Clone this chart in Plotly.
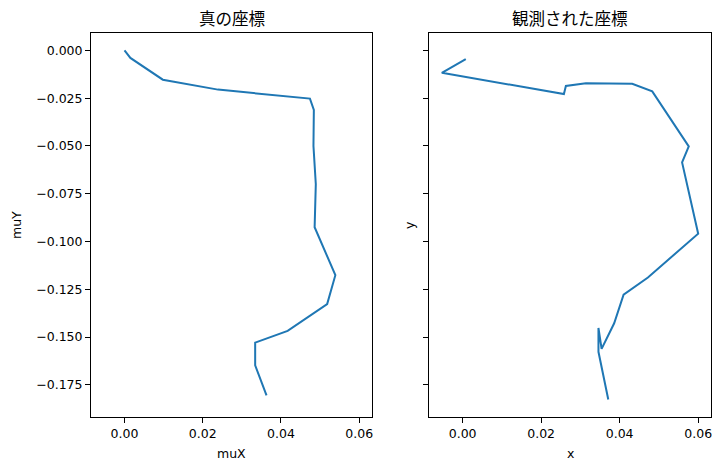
import plotly.graph_objects as go

# true coordinates (left panel)
mu_x = [0.0, 0.0015, 0.0098, 0.0239, 0.0474, 0.0484, 0.0483, 0.0489, 0.0486,
        0.0539, 0.0518, 0.0417, 0.0334, 0.0334, 0.0363]
mu_y = [0.0, -0.0039, -0.0153, -0.0205, -0.0252, -0.0311, -0.0500, -0.0700, -0.0925,
        -0.1176, -0.1327, -0.1468, -0.1529, -0.1648, -0.1805]

# observed coordinates (right panel)
obs_x = [0.0008, -0.0053, 0.0258, 0.0263, 0.0314, 0.0432, 0.0483, 0.0576, 0.0559,
         0.0600, 0.0472, 0.0410, 0.0386, 0.0354, 0.0346, 0.0346, 0.0371]
obs_y = [-0.0045, -0.0117, -0.0228, -0.0186, -0.0172, -0.0174, -0.0214, -0.0502, -0.0586,
         -0.0959, -0.1188, -0.1278, -0.1428, -0.1562, -0.1452, -0.1577, -0.1827]

titles = ["真の座標", "観測された座標"]
x_ticks = [0.0, 0.02, 0.04, 0.06]
y_ticks = [0.0, -0.025, -0.05, -0.075, -0.1, -0.125, -0.15, -0.175]

BLUE = "#1f77b4"
W, H = 722, 470


def padded(vals, frac=0.05):
    lo, hi = min(vals), max(vals)
    d = (hi - lo) * frac
    return [lo - d, hi + d]


xr = padded(mu_x + obs_x)
yr = padded(mu_y + obs_y)

# axes boxes in pixels (left, right, top, bottom)
boxes = [(91, 372, 33, 417), (429, 711, 33, 417)]

fig = go.Figure()
fig.add_trace(go.Scatter(x=mu_x, y=mu_y, mode="lines", line=dict(color=BLUE, width=2),
                         xaxis="x", yaxis="y", showlegend=False))
fig.add_trace(go.Scatter(x=obs_x, y=obs_y, mode="lines", line=dict(color=BLUE, width=2),
                         xaxis="x2", yaxis="y2", showlegend=False))

tick_font = dict(family="DejaVu Sans", size=12.5, color="black")
common = dict(showgrid=False, zeroline=False, showline=True, mirror=True,
              linecolor="black", linewidth=1, ticks="outside", ticklen=5,
              tickcolor="black", tickwidth=1, tickfont=tick_font)

(l1, r1, t1, b1), (l2, r2, t2, b2) = boxes
fig.update_layout(
    width=W, height=H,
    margin=dict(l=0, r=0, t=0, b=0),
    paper_bgcolor="white", plot_bgcolor="white",
    xaxis=dict(domain=[l1 / W, r1 / W], range=xr, tickvals=x_ticks, tickformat=".2f",
               anchor="y", **common),
    yaxis=dict(domain=[(H - b1) / H, (H - t1) / H], range=yr, tickvals=y_ticks,
               tickformat=".3f", anchor="x", **common),
    xaxis2=dict(domain=[l2 / W, r2 / W], matches="x", range=xr, tickvals=x_ticks,
                tickformat=".2f", anchor="y2", **common),
    yaxis2=dict(domain=[(H - b2) / H, (H - t2) / H], matches="y", range=yr,
                tickvals=y_ticks, showticklabels=False, anchor="x2", **common),
)

label_font = dict(family="DejaVu Sans", size=12.5, color="black")
title_font = dict(family="Noto Sans CJK JP", size=16.5, color="black")

for (l, r, t, b), ttl, xl in zip(boxes, titles, ["muX", "x"]):
    cx = (l + r) / 2 / W
    fig.add_annotation(x=cx, y=(H - 17.5) / H, xref="paper", yref="paper",
                       text=ttl, showarrow=False, font=title_font,
                       xanchor="center", yanchor="middle")
    fig.add_annotation(x=cx, y=(H - 453) / H, xref="paper", yref="paper",
                       text=xl, showarrow=False, font=label_font,
                       xanchor="center", yanchor="middle")

ymid = (H - (t1 + b1) / 2) / H
fig.add_annotation(x=17 / W, y=ymid, xref="paper", yref="paper", text="muY",
                   textangle=-90, showarrow=False, font=label_font,
                   xanchor="center", yanchor="middle")
fig.add_annotation(x=410 / W, y=ymid, xref="paper", yref="paper", text="y",
                   textangle=-90, showarrow=False, font=label_font,
                   xanchor="center", yanchor="middle")

fig.write_html("out.html", config={"displayModeBar": False},
               post_script="document.body.style.margin='0';document.body.style.overflow='hidden';")
